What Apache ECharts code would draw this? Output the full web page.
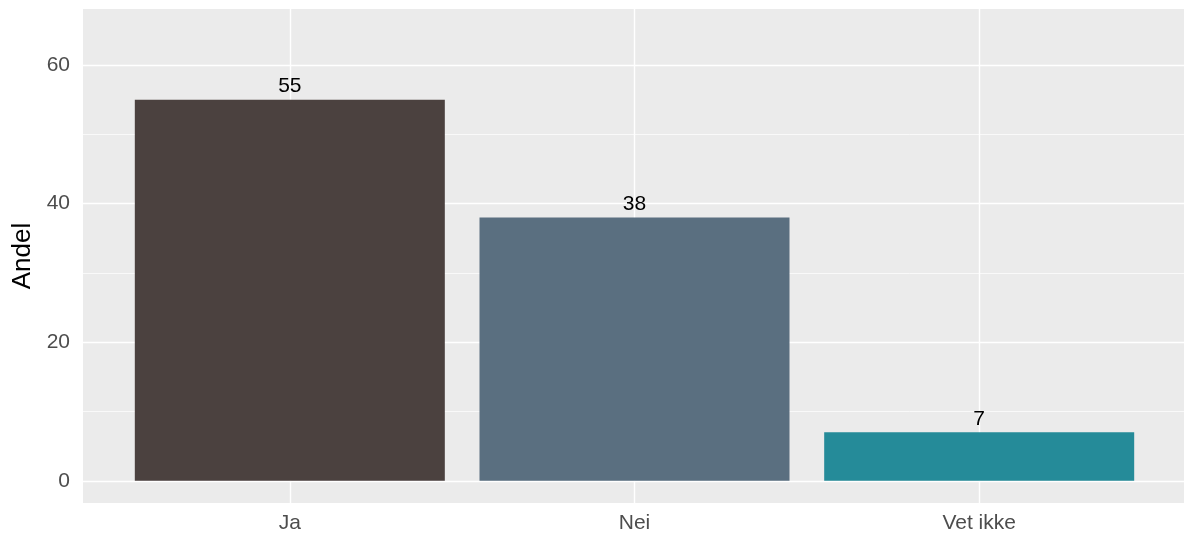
<!DOCTYPE html>
<html><head><meta charset="utf-8">
<script src="https://cdn.jsdelivr.net/npm/echarts@6/dist/echarts.min.js"></script>
<style>html,body{margin:0;padding:0;background:#fff}#c{width:1184px;height:536px}</style>
</head><body><div id="c"></div>
<script>
const categories = ['Ja', 'Nei', 'Vet ikke'];
const values = [55, 38, 7];
const barColors = ['#4B413F', '#5A6F80', '#258B99'];
const yMajorTicks = [0, 20, 40, 60];
const yMinorTicks = [10, 30, 50];

const positions = categories.map((c, i) => i + 1);
const chart = echarts.init(document.getElementById('c'), null, {renderer: 'canvas'});
const font = 'Liberation Sans, Arial, sans-serif';
const yMin = -3.2, yMax = 68.1;
chart.setOption({
  animation: false,
  grid: {left: 83, top: 9, width: 1103, height: 494, show: true, backgroundColor: '#EBEBEB', borderWidth: 0, outerBoundsMode: 'none', containLabel: false},
  xAxis: {
    type: 'value', min: 0.4, max: 3.6,
    axisLine: {show: false},
    axisTick: {show: false, customValues: positions},
    axisLabel: {customValues: positions, formatter: v => categories[Math.round(v) - 1] || '', color: '#4D4D4D', fontSize: 21, fontFamily: font, margin: 10},
    splitLine: {show: true, lineStyle: {color: '#fff', width: 1.4}}
  },
  yAxis: [{
    type: 'value', min: yMin, max: yMax,
    name: 'Andel', nameLocation: 'middle', nameGap: 47, nameRotate: 90,
    nameTextStyle: {color: '#000', fontSize: 26, fontFamily: font},
    axisLine: {show: false},
    axisTick: {show: false, customValues: yMajorTicks},
    axisLabel: {customValues: yMajorTicks, color: '#4D4D4D', fontSize: 21, fontFamily: font, margin: 13},
    splitLine: {show: true, lineStyle: {color: '#fff', width: 1.4}}
  }, {
    type: 'value', min: yMin, max: yMax, position: 'left',
    axisLine: {show: false},
    axisTick: {show: false, customValues: yMinorTicks},
    axisLabel: {show: false, customValues: yMinorTicks},
    splitLine: {show: true, lineStyle: {color: '#fff', width: 0.7}}
  }],
  series: [{
    type: 'bar', barWidth: 310, yAxisIndex: 0,
    data: values.map((v, i) => ({value: [positions[i], v], itemStyle: {color: barColors[i]}})),
    label: {show: true, position: 'top', distance: 3, color: '#000', fontSize: 21, fontFamily: font, formatter: p => p.value[1]}
  }]
});
</script></body></html>
